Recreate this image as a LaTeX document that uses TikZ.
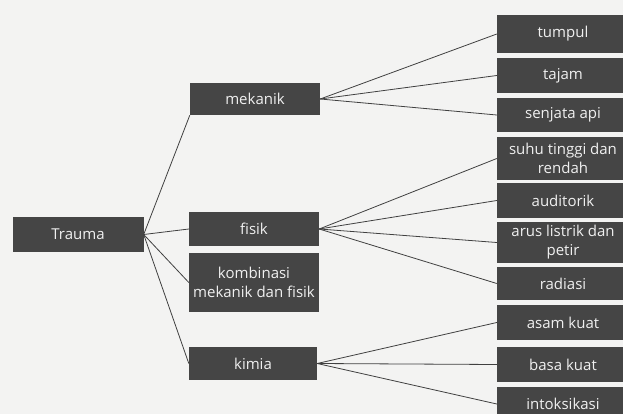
\documentclass[tikz,border=0pt]{standalone}
\usepackage{fontspec}
\setmainfont{Open Sans}
\definecolor{boxgray}{HTML}{454545}
\definecolor{pagegray}{HTML}{F3F3F2}
\definecolor{linegray}{HTML}{404040}

\begin{document}
\begin{tikzpicture}[x=1pt, y=-1pt,
    kotak/.style={fill=boxgray, text=white!94!black, inner sep=0pt,
        font=\fontsize{15}{19}\selectfont, align=center},
    garis/.style={draw=linegray, line width=0.8pt}]
    %%%%% START %%%%%
    
    \useasboundingbox[fill=pagegray] (0, 0) rectangle (623, 414);
    
    % kolom kiri
    \node[kotak, minimum width=131, minimum height=35] (trauma) at (78, 234.5) {Trauma};
    
    % kolom tengah
    \node[kotak, minimum width=130, minimum height=32] (mekanik) at (255, 99) {mekanik};
    \node[kotak, minimum width=130, minimum height=34] (fisik) at (254, 229) {fisik};
    \node[kotak, minimum width=130, minimum height=59] (kombinasi) at (254, 282.5) {kombinasi\\mekanik dan fisik};
    \node[kotak, minimum width=128, minimum height=33] (kimia) at (253, 363.5) {kimia};
    
    % kolom kanan
    \node[kotak, minimum width=132, minimum height=38] (tumpul) at (563, 34) {tumpul};
    \node[kotak, minimum width=132, minimum height=35] (tajam) at (563, 75.5) {tajam};
    \node[kotak, minimum width=132, minimum height=34] (senjata) at (563, 115) {senjata api};
    \node[kotak, minimum width=132, minimum height=43] (suhu) at (563, 158.5) {suhu tinggi dan\\rendah};
    \node[kotak, minimum width=132, minimum height=35] (auditorik) at (563, 200.5) {auditorik};
    \node[kotak, minimum width=132, minimum height=41] (arus) at (563, 242.5) {arus listrik dan\\petir};
    \node[kotak, minimum width=132, minimum height=33] (radiasi) at (563, 283.5) {radiasi};
    \node[kotak, minimum width=132, minimum height=35] (asam) at (563, 322.5) {asam kuat};
    \node[kotak, minimum width=132, minimum height=35] (basa) at (563, 364.5) {basa kuat};
    \node[kotak, minimum width=132, minimum height=34] (intoksikasi) at (563, 404) {intoksikasi};
    
    % cabang dari trauma
    \draw[garis] (trauma.east) -- (mekanik.south west);
    \draw[garis] (trauma.east) -- (fisik.west);
    \draw[garis] (trauma.east) -- (kombinasi.west);
    \draw[garis] (trauma.east) -- (kimia.west);
    
    % cabang mekanik
    \draw[garis] (mekanik.east) -- (tumpul.west);
    \draw[garis] (mekanik.east) -- (tajam.west);
    \draw[garis] (mekanik.east) -- (senjata.west);
    
    % cabang fisik
    \draw[garis] (fisik.east) -- (suhu.west);
    \draw[garis] (fisik.east) -- (auditorik.west);
    \draw[garis] (fisik.east) -- (arus.west);
    \draw[garis] (fisik.east) -- (radiasi.west);
    
    % cabang kimia
    \draw[garis] (kimia.east) -- (asam.west);
    \draw[garis] (kimia.east) -- (basa.west);
    \draw[garis] (kimia.east) -- (intoksikasi.west);
    
    %%%%% END %%%%%
\end{tikzpicture}
\end{document}
